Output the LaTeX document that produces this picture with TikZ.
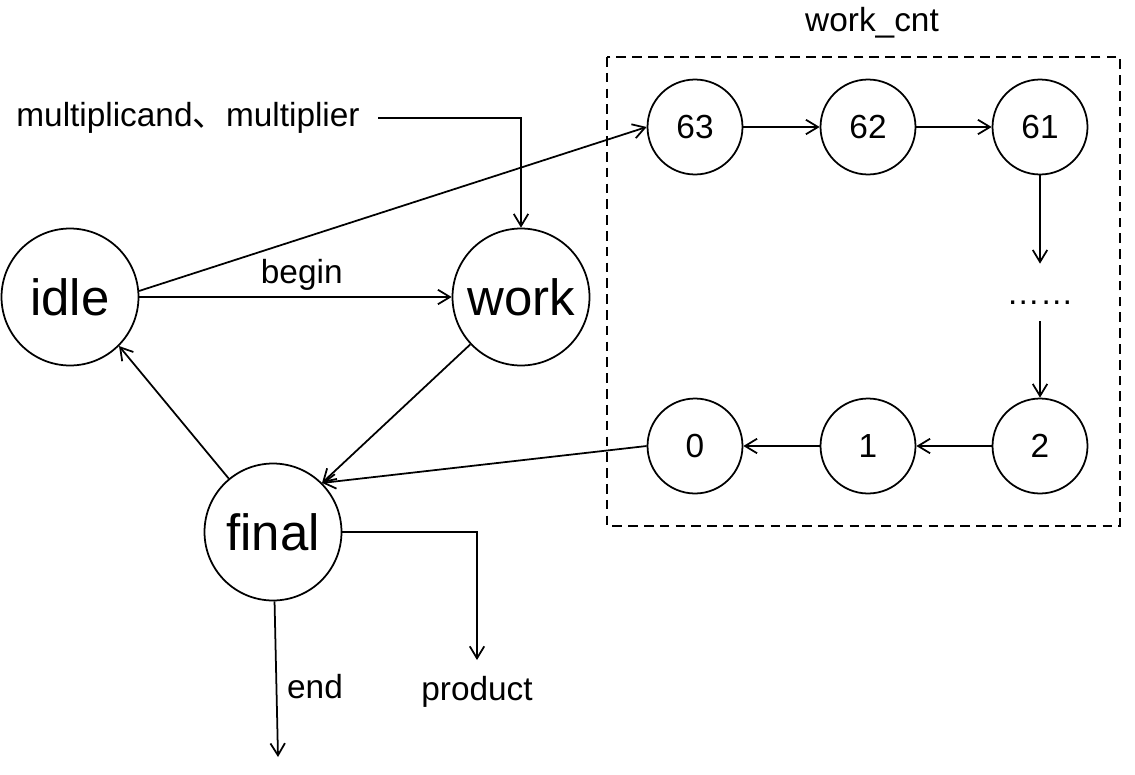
\documentclass[tikz,border=0pt]{standalone}
\usepackage{fontspec}
\setmainfont{Liberation Sans}
\newfontfamily\cjk{Noto Sans CJK SC}
\usetikzlibrary{arrows.meta}

\tikzset{
  bigstate/.style={draw, circle, line width=1pt, minimum size=2.74cm, inner sep=0pt, font=\fontsize{29}{34}\selectfont},
  cnt/.style={draw, circle, line width=1pt, minimum size=1.9cm, inner sep=0pt, font=\fontsize{19}{23}\selectfont},
  arr/.style={line width=1pt, -{Straight Barb[length=2.4mm,width=2.9mm]}},
  lbl/.style={font=\fontsize{19}{23}\selectfont}
}

\begin{document}
\begin{tikzpicture}[x=0.02cm, y=-0.02cm]
\useasboundingbox (0,0) rectangle (1135,774);

% states
\node[bigstate] (idle) at (70,297) {idle};
\node[bigstate] (work) at (521,297) {work};
\node[bigstate] (final) at (273,532) {final};

% counter
\draw[line width=1pt, dash pattern=on 5.5pt off 3.5pt] (607,57) rectangle (1120,526);
\node[lbl] (cntname) at (872,23) {work\_cnt};
\node[cnt] (n63) at (695,127) {63};
\node[cnt] (n62) at (868,127) {62};
\node[cnt] (n61) at (1040,127) {61};
\node[lbl, anchor=base, inner sep=0pt, text height=0.8cm, text depth=0.34cm] (dots) at (1040,304) {……};
\node[cnt] (n2) at (1040,446) {2};
\node[cnt] (n1) at (868,446) {1};
\node[cnt] (n0) at (695,446) {0};

\draw[arr] (n63) -- (n62);
\draw[arr] (n62) -- (n61);
\draw[arr] (n61) -- (dots);
\draw[arr] (dots) -- (n2);
\draw[arr] (n2) -- (n1);
\draw[arr] (n1) -- (n0);

% inputs and outputs
\node[lbl] (mul) at (188,118) {multiplicand{\cjk 、}multiplier};
\node[lbl] (prod) at (477,692) {product};
\node[lbl] (endlbl) at (315,687) {end};
\coordinate (prodtip) at (477,660);
\coordinate (endtip) at (278,757);

\draw[arr, shorten <=0.25cm] (mul) -| (work);
\draw[arr] (idle) -- node[lbl, above, pos=0.52] (beginlbl) {begin} (work);
\draw[arr] (idle.5) -- (n63.west);
\draw[arr] (work) -- (final.45);
\draw[arr] (n0.west) -- (final.45);
\draw[arr] (final) -- (idle.-45);
\draw[arr] (final) -| (prodtip);
\draw[arr] (final) -- (endtip);
\end{tikzpicture}
\end{document}
